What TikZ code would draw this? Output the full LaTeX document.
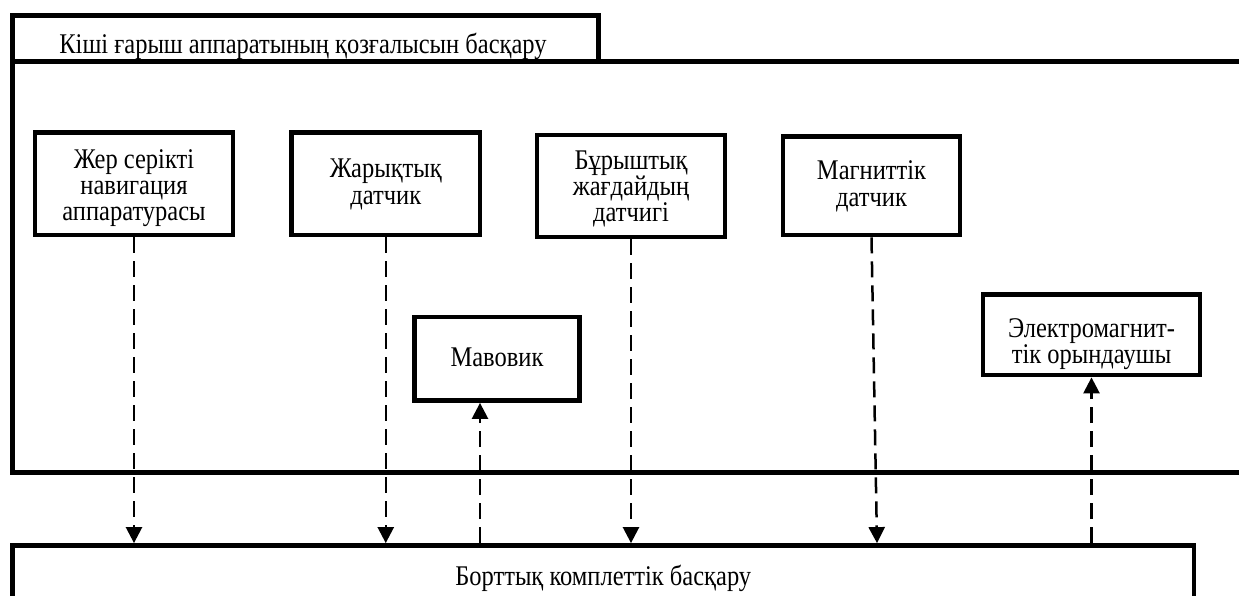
\documentclass[tikz,border=0pt]{standalone}
\usepackage{fontspec}
\setmainfont[FakeStretch=0.86]{Liberation Serif}
\usetikzlibrary{arrows.meta}
% multi-line text: #1 = height of first baseline above the box centre
\newcommand{\mlt}[2]{\raisebox{#1}[0pt][0pt]{\begin{tabular}[t]{@{}c@{}}#2\end{tabular}}}
\begin{document}
\begin{tikzpicture}[x=1pt,y=-1pt,
  every node/.style={font=\fontsize{28.5}{27}\selectfont},
  frame/.style={line width=5pt, line join=miter},
  sbox/.style={draw, line width=4.8pt, align=center, inner sep=0pt, fill=white},
  darr/.style={line width=2.5pt, dash pattern=on 16pt off 8pt, -{Triangle[width=16pt,length=16pt]}}]
\clip (0,0) rectangle (1239,596);
\fill[white] (0,0) rectangle (1239,596);
% outer frame
\draw[frame] (598,62) -- (598,15.5) -- (12.5,15.5) -- (12.5,472) -- (1250,472);
\draw[frame] (12.5,62) -- (1250,62);
\node[anchor=base] (title) at (303,54) {Кіші ғарыш аппаратының қозғалысын басқару};
% boxes
\node[sbox, minimum width=198pt, minimum height=102.5pt] (b1) at (134,183.75)
  {\mlt{14.75pt}{Жер серікті\\[-1pt]навигация\\[-1pt]аппаратурасы}};
\node[sbox, minimum width=188.5pt, minimum height=102.5pt] (b2) at (385.75,183.75)
  {\mlt{5.75pt}{Жарықтық\\датчик}};
\node[sbox, minimum width=188pt, minimum height=102pt] (b3) at (631,186)
  {\mlt{17pt}{Бұрыштық\\[-1pt]жағдайдың\\[-1pt]датчигі}};
\node[sbox, minimum width=177pt, minimum height=98.5pt] (b4) at (871.5,185.75)
  {\mlt{5.75pt}{Магниттік\\датчик}};
\node[sbox, minimum width=165pt, minimum height=83.5pt] (mav) at (497,358.75)
  {\mlt{-7.25pt}{Мавовик}};
\node[sbox, minimum width=217pt, minimum height=80.5pt] (em) at (1091.5,334.75)
  {\mlt{-2.25pt}{Электромагнит-\\[-1pt]тік орындаушы}};
\node[sbox, minimum width=1181.5pt, minimum height=66.5pt] (bk) at (603.25,578.75)
  {Борттық комплеттік басқару};
% connectors
\draw[darr] (b1.south) -- (b1.south |- bk.north);
\draw[darr] (b2.south) -- (b2.south |- bk.north);
\draw[darr] (b3.south) -- (b3.south |- bk.north);
\draw[darr] (b4.south) -- ([xshift=5.5pt]b4.south |- bk.north);
\draw[darr] ([xshift=-17pt]mav.south |- bk.north) -- ([xshift=-17pt]mav.south);
\draw[darr] (em.south |- bk.north) -- (em.south);
\end{tikzpicture}
\end{document}
